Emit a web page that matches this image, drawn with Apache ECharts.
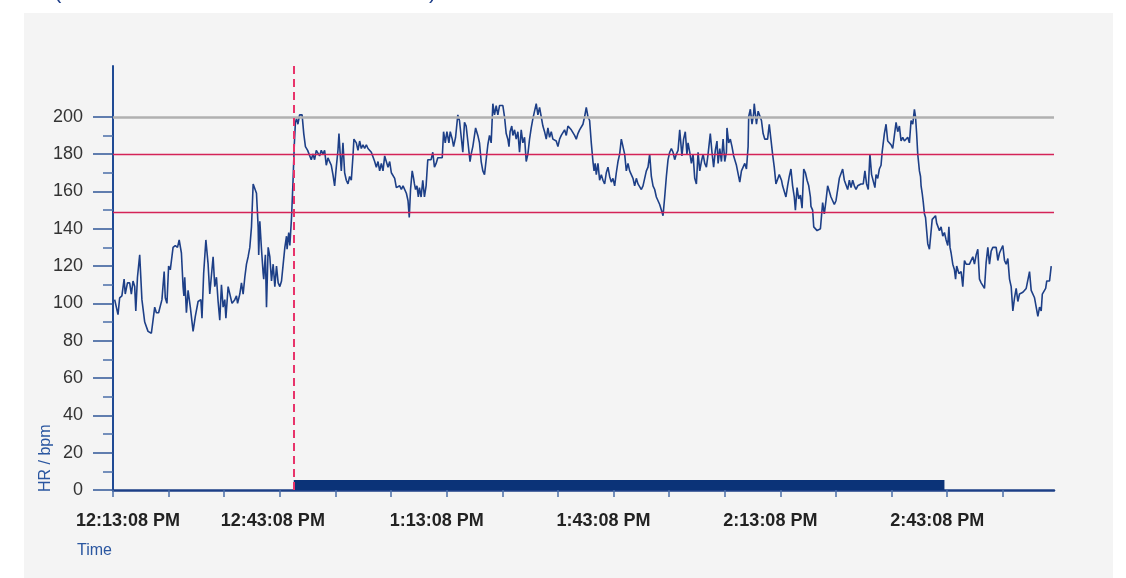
<!DOCTYPE html>
<html>
<head>
<meta charset="utf-8">
<title>HR</title>
<script src="https://cdn.jsdelivr.net/npm/echarts/dist/echarts.min.js"></script>
<style>
  html, body { margin: 0; padding: 0; background: #fff; }
  #chart { width: 1126px; height: 578px; }
</style>
</head>
<body>
<div id="chart"></div>
<script>
// minutes after 12:13:08 PM
let hrMinutes = [
  0.3, 0.9, 1.2, 1.6, 2.0, 2.2, 2.6, 3.0, 3.3, 3.6, 3.9, 4.1, 4.4, 4.8, 5.2, 5.7, 6.0, 6.3, 6.9, 7.2,
  7.5, 7.8, 8.2, 8.4, 8.8, 9.2, 9.4, 9.7, 10.0, 10.3, 10.8, 11.2, 11.6, 11.9, 12.3, 12.6, 12.75, 12.9, 13.2, 13.5,
  13.9, 14.4, 14.8, 15.3, 15.8, 16.0, 16.3, 16.7, 17.1, 17.4, 17.7, 18.0, 18.3, 18.6, 18.9, 19.2, 19.5, 19.8, 20.1, 20.3,
  20.7, 21.0, 21.4, 21.9, 22.2, 22.4, 22.8, 23.1, 23.4, 23.7, 24.0, 24.3, 24.6, 24.9, 25.2, 25.5, 25.8, 26.1, 26.2, 26.4,
  26.7, 27.0, 27.1, 27.4, 27.6, 27.9, 28.2, 28.5, 28.8, 29.1, 29.4, 29.7, 30.0, 30.3, 30.6, 30.9, 31.2, 31.3, 31.6, 31.8,
  32.1, 32.35, 32.6, 32.8, 33.0, 33.25, 33.55, 34.0, 34.3, 34.6, 35.0, 35.3, 35.65, 35.95, 36.25, 36.55, 36.85, 37.15, 37.45, 37.75,
  38.05, 38.35, 38.65, 38.95, 39.25, 39.55, 39.85, 40.15, 40.45, 40.63, 40.87, 41.05, 41.35, 41.65, 41.95, 42.25, 42.55, 42.85, 43.15, 43.32,
  43.75, 44.05, 44.35, 44.65, 44.95, 45.25, 45.55, 45.85, 46.15, 46.45, 46.75, 47.05, 47.35, 47.65, 47.95, 48.25, 48.55, 48.85, 49.15, 49.45,
  49.75, 50.05, 50.35, 50.65, 50.95, 51.25, 51.55, 51.85, 52.15, 52.45, 52.75, 53.05, 53.27, 53.5, 53.8, 54.05, 54.2, 54.4, 54.65, 54.9,
  55.1, 55.4, 55.7, 56.0, 56.3, 56.6, 56.9, 57.2, 57.5, 57.8, 58.1, 58.4, 58.7, 59.2, 59.44, 59.74, 60.04, 60.4, 60.64, 61.0,
  61.24, 61.6, 62.0, 62.3, 62.6, 62.9, 63.2, 63.5, 63.8, 64.2, 64.4, 64.7, 65.2, 65.6, 65.9, 66.2, 66.5, 66.8, 67.1, 67.4,
  67.7, 68.0, 68.3, 68.6, 68.9, 69.2, 69.5, 69.8, 70.1, 70.4, 70.7, 71.0, 71.2, 71.4, 71.7, 71.9, 72.2, 72.5, 72.8, 73.1,
  73.4, 73.7, 74.0, 74.3, 74.6, 74.9, 75.2, 75.5, 75.8, 76.1, 76.4, 76.7, 77.0, 77.3, 77.6, 77.9, 78.2, 78.5, 78.8, 79.1,
  79.4, 79.7, 80.0, 80.3, 80.6, 80.9, 81.2, 81.5, 81.8, 82.1, 82.4, 82.7, 83.0, 83.3, 83.6, 83.9, 84.2, 84.5, 84.8, 85.1,
  85.4, 85.7, 86.0, 86.3, 86.5, 86.7, 86.9, 87.2, 87.5, 87.8, 88.1, 88.4, 88.7, 89.0, 89.3, 89.6, 89.9, 90.2, 90.5, 90.8,
  91.1, 91.4, 91.7, 92.0, 92.3, 92.6, 92.9, 93.2, 93.5, 93.8, 94.1, 94.4, 94.7, 95.0, 95.3, 95.6, 95.9, 96.2, 96.5, 96.8,
  97.1, 97.4, 97.7, 98.0, 98.3, 98.6, 98.9, 99.2, 99.5, 99.8, 100.1, 100.4, 100.7, 101.0, 101.3, 101.6, 101.9, 102.2, 102.3, 102.6,
  102.9, 103.2, 103.4, 103.7, 104.0, 104.3, 104.6, 104.9, 105.2, 105.5, 105.8, 106.1, 106.4, 106.7, 107.0, 107.4, 107.7, 108.0, 108.3, 108.6,
  108.8, 109.1, 109.4, 109.7, 110.0, 110.3, 110.4, 110.7, 111.0, 111.3, 111.6, 111.8, 112.1, 112.4, 112.7, 113.0, 113.3, 113.6, 113.9, 114.2,
  114.3, 114.6, 114.9, 115.2, 115.3, 115.7, 116.0, 116.3, 116.6, 116.9, 117.2, 117.4, 117.7, 118.0, 118.3, 118.6, 118.9, 119.2, 119.5, 119.8,
  120.2, 120.4, 120.7, 121.0, 121.3, 121.6, 121.9, 122.2, 122.5, 122.7, 123.0, 123.3, 123.6, 123.9, 124.2, 124.5, 124.8, 125.1, 125.4, 125.5,
  125.8, 126.0, 126.3, 126.6, 126.9, 127.2, 127.5, 127.6, 127.9, 128.2, 128.5, 128.8, 129.1, 129.4, 129.7, 130.0, 130.3, 130.6, 130.9, 131.2,
  131.5, 131.8, 132.1, 132.4, 132.7, 133.0, 133.3, 133.6, 133.9, 134.2, 134.5, 134.9, 135.2, 135.5, 135.8, 136.1, 136.4, 136.7, 137.0, 137.2,
  137.5, 137.8, 138.1, 138.3, 138.5, 138.7, 139.0, 139.3, 139.6, 139.9, 140.2, 140.5, 140.8, 141.1, 141.4, 141.7, 142.0, 142.3, 142.6, 142.9,
  143.2, 143.5, 143.8, 144.1, 144.3, 144.5, 144.7, 144.8, 145.0, 145.2, 145.3, 145.5, 145.7, 145.9, 146.1, 146.3, 146.5, 146.8, 147.1, 147.3,
  147.5, 147.9, 148.1, 148.3, 148.6, 148.9, 149.2, 149.5, 149.8, 150.1, 150.3, 150.5, 150.7, 151.0, 151.3, 151.5, 151.7, 152.1, 152.5, 152.8,
  153.1, 153.4, 153.7, 154.0, 154.3, 154.6, 154.9, 155.2, 155.5, 155.8, 156.1, 156.4, 156.7, 157.0, 157.3, 157.6, 157.9, 158.2, 158.5, 158.8,
  159.1, 159.4, 159.7, 160.0, 160.3, 160.6, 160.9, 161.2, 161.5, 161.8, 162.1, 162.4, 162.7, 163.0, 163.3, 163.6, 163.9, 164.2, 164.5, 164.8,
  165.1, 165.4, 165.7, 166.0, 166.3, 166.6, 166.9, 167.1, 167.4, 167.7, 167.9, 168.2, 168.4, 168.6, 168.7
];
let hrValues = [
  102, 94, 103, 104, 113, 105, 111, 111, 105, 112, 109, 96, 114, 126, 102, 90, 91, 85, 84, 85,
  98, 95, 95, 94, 102, 117, 103, 100, 120, 118, 130, 131, 130, 134, 127, 109, 104, 114, 95, 107,
  98, 85, 93, 101, 102, 92, 116, 134, 121, 105, 104, 125, 109, 114, 101, 91, 110, 98, 102, 92,
  109, 108, 100, 102, 104, 100, 105, 111, 105, 114, 121, 125, 130, 141, 164, 165, 159, 141, 126, 144,
  129, 116, 113, 126, 98, 130, 125, 112, 121, 109, 120, 111, 109, 112, 121, 130, 136, 129, 138, 131,
  146, 164, 185, 197, 199, 196, 201, 201, 191, 184, 182, 182, 177, 180, 177, 182, 183, 179, 182, 180,
  182, 174, 178, 176, 174, 169, 163, 173, 182, 191, 179, 171, 186, 170, 166, 164, 168, 166, 179, 188,
  186, 182, 187, 183, 185, 183, 185, 183, 184, 181, 180, 176, 173, 176, 171, 175, 171, 179, 180, 173,
  176, 170, 169, 167, 162, 161, 163, 161, 163, 162, 159, 155, 146, 161, 171, 167, 164, 161, 163, 157,
  162, 157, 166, 157, 163, 177, 178, 177, 181, 173, 175, 178, 177, 178, 192, 186, 192, 186, 192, 188,
  184, 189, 201, 198, 199, 181, 197, 195, 187, 176, 180, 184, 194, 190, 186, 176, 171, 169, 177, 185,
  190, 186, 207, 201, 206, 201, 206, 207, 206, 200, 191, 188, 184, 192, 195, 190, 193, 188, 192, 181,
  193, 186, 189, 176, 180, 188, 194, 199, 200, 207, 201, 205, 200, 195, 192, 188, 194, 189, 192, 188,
  188, 187, 184, 188, 190, 189, 193, 190, 195, 196, 193, 194, 190, 188, 191, 193, 192, 196, 200, 205,
  200, 198, 186, 176, 171, 175, 169, 175, 166, 169, 166, 164, 170, 173, 168, 165, 167, 163, 170, 176,
  180, 188, 187, 180, 171, 175, 171, 171, 167, 163, 167, 164, 163, 161, 163, 163, 171, 173, 180, 168,
  163, 161, 157, 155, 153, 150, 147, 157, 168, 177, 181, 183, 181, 177, 180, 182, 193, 194, 179, 188,
  192, 180, 186, 181, 175, 180, 167, 164, 181, 171, 176, 180, 175, 173, 180, 191, 181, 173, 182, 187,
  175, 183, 176, 188, 176, 181, 194, 186, 188, 184, 179, 180, 174, 173, 165, 171, 173, 175, 172, 184,
  200, 204, 196, 202, 207, 196, 203, 202, 198, 191, 188, 189, 188, 196, 188, 180, 173, 164, 163, 169,
  166, 163, 163, 157, 163, 168, 172, 163, 157, 150, 162, 156, 158, 151, 172, 170, 166, 163, 157, 152,
  150, 141, 140, 139, 138, 140, 141, 154, 148, 155, 163, 163, 157, 155, 153, 155, 161, 167, 168, 172,
  166, 167, 161, 166, 162, 166, 163, 161, 163, 163, 164, 164, 171, 164, 161, 180, 169, 170, 162, 169,
  167, 172, 174, 181, 180, 191, 196, 187, 186, 185, 183, 183, 197, 192, 195, 187, 189, 187, 188, 189,
  186, 198, 196, 204, 200, 191, 180, 177, 171, 168, 163, 159, 154, 148, 146, 139, 132, 129, 130, 145,
  144, 147, 143, 144, 139, 141, 136, 138, 134, 131, 141, 130, 127, 121, 118, 113, 120, 116, 117, 109,
  123, 121, 122, 121, 121, 125, 121, 126, 129, 113, 111, 112, 108, 122, 130, 121, 128, 130, 129, 130,
  123, 127, 126, 131, 123, 121, 124, 113, 109, 96, 103, 108, 101, 105, 104, 106, 105, 108, 107, 117,
  107, 108, 103, 98, 93, 98, 96, 105, 106, 108, 112, 113, 112, 111, 120
];

let tickMinutes = [0, 10, 20, 30, 40, 50, 60, 70, 80, 90, 100, 110, 120, 130, 140, 150, 160];
let labelMinutes = [0, 30, 60, 90, 120, 150];
let timeLabels = ['12:13:08 PM', '12:43:08 PM', '1:13:08 PM', '1:43:08 PM', '2:13:08 PM', '2:43:08 PM'];
let hrTicks = [0, 20, 40, 60, 80, 100, 120, 140, 160, 180, 200];
let hrMinorTicks = [10, 30, 50, 70, 90, 110, 130, 150, 170, 190];

let maxLine = 200;
let zoneLines = [180, 149];
let startMarker = 32.5;
let activeSpan = [32.5, 149.5];

let chart = echarts.init(document.getElementById('chart'));

let fontFamily = '"Liberation Sans", Arial, sans-serif';
let labelStyle = (pad) => ({
  fontFamily: fontFamily,
  fontSize: 18,
  fontWeight: 'bold',
  color: '#222',
  padding: pad,
});

let data = hrMinutes.map((m, i) => [m, hrValues[i]]);

let option = {
  backgroundColor: '#fff',
  animation: false,
  graphic: [
    {
      type: 'rect',
      z: -10,
      shape: { x: 24, y: 13, width: 1089, height: 565 },
      style: { fill: '#f4f4f4' },
    },
    {
      type: 'text',
      x: 54, y: -19,
      style: { text: '(', fontSize: 22, fontFamily: fontFamily, fill: '#1f3f8a' },
    },
    {
      type: 'text',
      x: 429, y: -19,
      style: { text: ')', fontSize: 22, fontFamily: fontFamily, fill: '#1f3f8a' },
    },
    {
      type: 'text',
      x: 77, y: 543,
      style: { text: 'Time', fontSize: 16, fontFamily: fontFamily, fill: '#2a56a0' },
    },
    {
      type: 'text',
      x: 46, y: 492,
      rotation: Math.PI / 2,
      style: {
        text: 'HR / bpm', fontSize: 16, fontFamily: fontFamily, fill: '#2a56a0',
        align: 'left', verticalAlign: 'middle',
      },
    },
  ],
  grid: { left: 113, right: 72, top: 66, bottom: 88 },
  xAxis: {
    type: 'value',
    min: 0,
    max: 169.2,
    splitLine: { show: false },
    axisLine: { lineStyle: { color: '#1c3f86', width: 2.5 } },
    axisTick: {
      customValues: tickMinutes,
      length: 7,
      lineStyle: { color: '#4a6ea8', width: 1.5 },
    },
    axisLabel: {
      customValues: labelMinutes,
      margin: 22,
      formatter: (v) => {
        let i = labelMinutes.indexOf(v);
        let key = i == 0 ? 'a' : i == 1 ? 'b' : 'c';
        return '{' + key + '|' + timeLabels[i] + '}';
      },
      rich: {
        a: labelStyle([0, 0, 0, 30]),
        b: labelStyle([0, 14, 0, 0]),
        c: labelStyle([0, 20, 0, 0]),
      },
    },
  },
  yAxis: [
    {
      type: 'value',
      min: 0,
      max: 227.2,
      splitLine: { show: false },
      axisLine: { show: true, lineStyle: { color: '#1f4a94', width: 2 } },
      axisTick: {
        show: true,
        customValues: hrTicks,
        length: 20,
        lineStyle: { color: '#2f5597', width: 1.5 },
      },
      axisLabel: {
        customValues: hrTicks,
        margin: 30,
        fontFamily: fontFamily,
        fontSize: 18,
        color: '#333',
      },
    },
    {
      type: 'value',
      min: 0,
      max: 227.2,
      position: 'left',
      splitLine: { show: false },
      axisLine: { show: false },
      axisTick: {
        show: true,
        customValues: hrMinorTicks,
        length: 10,
        lineStyle: { color: '#4a6ea8', width: 1.5 },
      },
      axisLabel: { show: false },
    },
  ],
  series: [
    {
      name: 'HR',
      type: 'line',
      data: data,
      showSymbol: false,
      symbol: 'none',
      lineStyle: { color: '#1d3f87', width: 1.6 },
      markLine: {
        silent: true,
        symbol: 'none',
        label: { show: false },
        data: [
          { yAxis: maxLine, lineStyle: { color: '#b0b0b0', width: 2.5, type: 'solid' } },
          ...zoneLines.map((v) => ({ yAxis: v, lineStyle: { color: '#d42357', width: 1.3, type: 'solid' } })),
          { xAxis: startMarker, lineStyle: { color: '#e8336a', width: 2, type: [8, 5] } },
        ],
      },
      markArea: {
        silent: true,
        itemStyle: { color: '#0b3378', opacity: 1 },
        data: [[{ xAxis: activeSpan[0], yAxis: 0 }, { xAxis: activeSpan[1], yAxis: 5.4 }]],
      },
    },
  ],
};

chart.setOption(option);
</script>
</body>
</html>
